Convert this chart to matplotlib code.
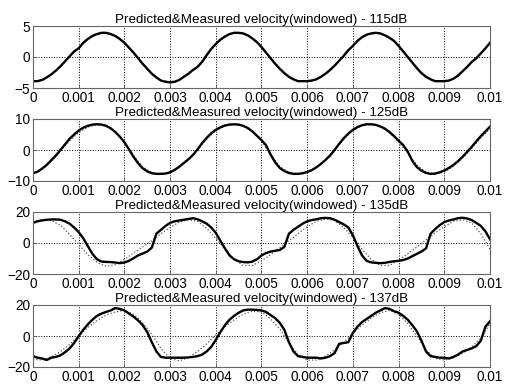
import numpy as np
from matplotlib import pyplot as plt

# time grids (s)
t_meas = np.arange(101) * 0.0001
t_pred = np.arange(51) * 0.0002

titles = ['Predicted&Measured velocity(windowed) - 115dB',
          'Predicted&Measured velocity(windowed) - 125dB',
          'Predicted&Measured velocity(windowed) - 135dB',
          'Predicted&Measured velocity(windowed) - 137dB']
ylims = [(-5, 5), (-10, 10), (-20, 20), (-20, 20)]
yticks = [[-5, 0, 5], [-10, 0, 10], [-20, 0, 20], [-20, 0, 20]]
xticks = [0, 0.001, 0.002, 0.003, 0.004, 0.005, 0.006, 0.007, 0.008, 0.009, 0.01]
xticklabels = ['0', '0.001', '0.002', '0.003', '0.004', '0.005', '0.006',
               '0.007', '0.008', '0.009', '0.01']

# 115dB
meas_115 = [-3.9, -3.9, -3.7, -3.3, -2.8, -2.2, -1.5, -0.7, 0.1, 0.9,
            1.4, 2.3, 2.9, 3.4, 3.7, 3.9, 3.9, 3.7, 3.4, 2.9,
            2.3, 1.5, 0.7, -0.2, -1.1, -1.9, -2.7, -3.3, -3.8, -4.0,
            -4.1, -4.0, -3.7, -3.2, -2.7, -2.1, -1.6, -0.8, 0.3, 1.3,
            2.1, 2.8, 3.3, 3.7, 3.9, 3.9, 3.8, 3.5, 3.0, 2.4,
            1.6, 0.7, -0.2, -1.1, -1.9, -2.6, -3.2, -3.6, -3.9, -3.9,
            -3.9, -3.8, -3.6, -3.2, -2.7, -2.1, -1.4, -0.6, 0.2, 1.1,
            1.8, 2.6, 3.2, 3.6, 3.8, 3.9, 3.8, 3.5, 3.1, 2.6,
            1.8, 0.9, 0.0, -0.9, -1.8, -2.6, -3.2, -3.6, -3.9, -3.9,
            -3.9, -3.8, -3.5, -3.0, -2.3, -1.6, -0.8, -0.2, 0.6, 1.4,
            2.3]
pred_115 = [-3.9, -3.7, -2.8, -1.5, 0.0, 1.5, 2.9, 3.7, 3.9, 3.4,
            2.3, 0.7, -1.1, -2.7, -3.8, -4.0, -3.7, -2.7, -1.5, 0.3,
            2.0, 3.3, 3.9, 3.8, 3.0, 1.6, -0.2, -1.9, -3.2, -3.9,
            -3.9, -3.6, -2.7, -1.4, 0.2, 1.8, 3.2, 3.8, 3.8, 3.1,
            1.8, 0.0, -1.8, -3.2, -3.9, -3.9, -3.5, -2.3, -0.9, 0.6,
            2.2]

# 125dB
meas_125 = [-7.5, -7.0, -6.0, -4.8, -3.3, -1.8, 0.0, 1.8, 3.6, 5.0,
            6.3, 7.2, 7.8, 8.2, 8.3, 8.2, 7.8, 7.0, 5.8, 4.3,
            2.5, 0.2, -2.2, -4.3, -5.9, -6.9, -7.5, -7.7, -7.7, -7.6,
            -7.2, -6.4, -5.4, -4.2, -3.0, -1.6, 0.2, 2.2, 3.9, 5.4,
            6.5, 7.3, 7.9, 8.2, 8.3, 8.2, 7.8, 7.1, 6.0, 4.6,
            3.2, 1.5, -1.5, -4.0, -5.8, -6.8, -7.4, -7.7, -7.7, -7.5,
            -7.1, -6.5, -5.6, -4.5, -3.2, -1.8, 0.0, 2.0, 3.8, 5.3,
            6.5, 7.4, 8.0, 8.3, 8.3, 8.1, 7.6, 6.9, 5.8, 4.5,
            3.0, 1.6, -0.5, -3.5, -5.5, -6.7, -7.4, -7.7, -7.6, -7.2,
            -6.6, -5.8, -4.8, -3.6, -2.2, -0.6, 1.0, 2.8, 4.5, 6.0,
            7.5]
pred_125 = [-7.6, -6.2, -3.6, -0.4, 3.0, 5.6, 7.4, 8.2, 7.8, 5.9,
            2.6, -1.8, -5.4, -7.3, -7.7, -7.3, -5.5, -3.0, 0.0, 3.5,
            6.2, 7.8, 8.2, 7.7, 5.9, 2.9, -1.4, -5.3, -7.2, -7.7,
            -7.2, -5.6, -3.1, 0.0, 3.5, 6.3, 7.9, 8.3, 7.6, 5.6,
            2.6, -1.0, -4.9, -7.1, -7.7, -7.1, -5.3, -2.6, 0.6, 3.9,
            6.8]

# 135dB
meas_135 = [13.0, 14.0, 14.6, 15.0, 15.2, 15.2, 15.0, 14.0, 12.5, 10.0,
            7.0, 3.0, -2.0, -7.0, -10.5, -12.0, -12.2, -12.3, -12.6, -13.0,
            -12.6, -11.5, -9.8, -8.0, -6.8, -5.5, -3.0, 6.0, 8.5, 11.0,
            13.0, 14.0, 14.5, 15.0, 15.5, 16.0, 15.3, 14.0, 12.5, 10.0,
            6.5, 1.5, -3.5, -8.0, -10.5, -11.8, -12.3, -12.5, -12.0, -10.5,
            -8.0, -6.5, -5.5, -5.0, -4.5, -2.5, 6.0, 8.5, 10.5, 12.5,
            14.0, 14.8, 15.3, 16.0, 16.2, 16.0, 15.0, 13.5, 12.0, 10.0,
            5.0, -2.0, -8.0, -11.5, -12.5, -12.8, -13.0, -12.8, -12.2, -11.8,
            -11.5, -11.0, -10.0, -8.5, -7.0, -5.5, -3.5, 6.0, 9.0, 11.5,
            13.5, 14.5, 15.2, 16.0, 16.3, 15.8, 14.8, 13.0, 11.0, 7.5,
            2.5]
pred_135 = [14.0, 14.8, 14.5, 11.5, 5.5, -1.0, -7.5, -12.5, -15.0, -14.0,
            -10.5, -6.5, -2.5, 1.5, 6.0, 10.0, 13.5, 15.0, 14.0, 9.5,
            3.0, -4.0, -10.5, -14.5, -14.5, -11.5, -7.5, -3.0, 1.5, 6.0,
            10.5, 14.0, 15.5, 14.5, 10.0, 3.5, -4.0, -10.5, -14.5, -14.5,
            -11.0, -7.0, -2.5, 2.0, 6.5, 10.5, 14.0, 15.0, 13.0, 6.0,
            -4.0]

# 137dB
meas_137 = [-13.0, -14.0, -14.5, -15.5, -14.0, -13.5, -12.5, -10.5, -8.0, -4.5,
            0.0, 4.0, 7.5, 10.5, 13.0, 14.5, 15.5, 16.5, 18.0, 17.5,
            16.5, 14.5, 12.5, 10.0, 7.0, 2.5, -4.0, -10.0, -13.5, -14.0,
            -14.0, -14.0, -14.0, -14.0, -13.8, -13.5, -13.0, -12.0, -10.0, -7.0,
            -2.5, 2.5, 7.0, 10.5, 13.0, 15.0, 16.5, 17.0, 17.0, 16.8,
            16.5, 15.5, 13.5, 11.5, 8.5, 4.0, -4.0, -10.0, -13.0, -13.5,
            -14.0, -14.0, -14.0, -14.5, -14.0, -13.0, -11.0, -5.0, -4.5, -4.0,
            2.0, 6.0, 9.0, 11.0, 13.0, 15.0, 16.5, 18.0, 17.5, 16.0,
            15.0, 13.0, 10.5, 7.0, 3.0, -3.0, -10.0, -13.0, -13.5, -14.0,
            -14.0, -14.5, -13.5, -12.0, -10.0, -9.0, -8.0, -6.5, -3.0, 6.0,
            9.5]
pred_137 = [-15.0, -15.5, -13.5, -10.0, -5.5, 0.0, 5.5, 10.0, 13.5, 15.5,
            16.5, 14.0, 8.5, 1.0, -8.0, -14.5, -16.0, -14.0, -10.0, -5.0,
            0.5, 6.0, 10.5, 14.0, 16.0, 15.5, 11.0, 4.5, -4.5, -12.0,
            -15.5, -15.5, -13.0, -9.0, -4.0, 1.5, 7.0, 11.5, 15.0, 16.5,
            14.0, 8.0, 0.0, -9.0, -14.5, -15.5, -14.0, -11.0, -7.0, -1.5,
            8.0]

measured = [meas_115, meas_125, meas_135, meas_137]
predicted = [pred_115, pred_125, pred_135, pred_137]

plt.rcParams['font.family'] = ['Liberation Sans', 'DejaVu Sans']
plt.rcParams['font.size'] = 9.8

fig = plt.figure(figsize=(5.06, 3.86), dpi=100)

W, H = 506.0, 386.0
left, width = 33, 457
# axes top / bottom in pixels
tops = [26, 119, 212, 305]
bottoms = [88, 181, 274, 367]

for i in range(4):
    ax = fig.add_axes([left / W, 1 - bottoms[i] / H, width / W,
                       (bottoms[i] - tops[i]) / H])
    ax.plot(t_pred, predicted[i], color='#555555', linestyle=':', linewidth=0.9)
    ax.plot(t_meas, measured[i], color='black', linewidth=1.7)
    ax.set_xlim(0, 0.01)
    ax.set_ylim(*ylims[i])
    ax.set_xticks(xticks)
    ax.set_xticklabels(xticklabels)
    ax.set_yticks(yticks[i])
    ax.grid(True, color='black', linestyle=':', linewidth=0.7)
    ax.tick_params(direction='in', length=3, width=0.6, color='#555555', pad=2)
    for s in ax.spines.values():
        s.set_color('#666666')
        s.set_linewidth(0.8)
    ax.set_title(titles[i], fontsize=9.6, pad=2)

fig.savefig('out.png', dpi=100)
